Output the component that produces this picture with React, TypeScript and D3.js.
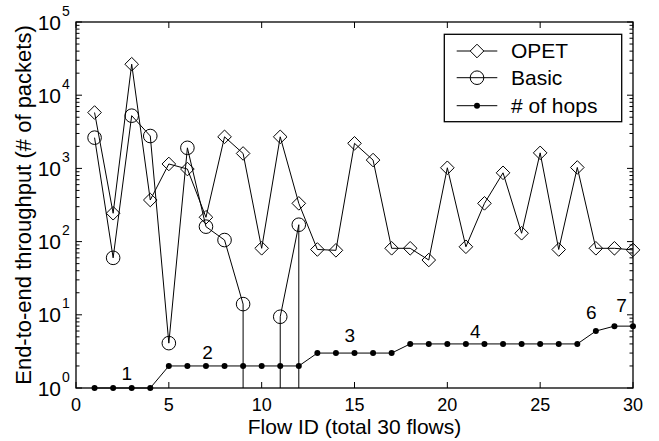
import React from "react";
import * as d3 from "d3";

const flowIds = d3.range(1, 31);
const opet = [5800, 244, 26500, 370, 1150, 980, 215, 2700, 1600, 81, 2700, 333, 78, 76, 2200, 1300, 81, 81, 56, 1020, 85, 333, 870, 130, 1630, 78, 1030, 81, 81, 77];
const basic = [2630, 60, 5250, 2770, 4.1, 1910, 160, 105, 14, 0, 9.4, 170, 0];
const hops = [1, 1, 1, 1, 2, 2, 2, 2, 2, 2, 2, 2, 3, 3, 3, 3, 3, 4, 4, 4, 4, 4, 4, 4, 4, 4, 4, 6, 7, 7];
const xTicks = [0, 5, 10, 15, 20, 25, 30];
const yExps = [0, 1, 2, 3, 4, 5];
const hopLabels = ["1", "2", "3", "4", "6", "7"];
const hopLabelX = [2.73, 7.09, 14.75, 21.5, 27.76, 29.38];
const hopLabelLevel = [1, 2, 3, 4, 6, 7];
const legendNames = ["OPET", "Basic", "# of hops"];

const FONT = "'Liberation Sans', Arial, Helvetica, sans-serif";
const L = 76, R = 633, T = 22, B = 388;

export default function App() {
  const x = d3.scaleLinear().domain([0, 30]).range([L, R]);
  const y = d3.scaleLog().domain([1, 1e5]).range([B, T]);
  const line = d3.line<[number, number]>().x(d => x(d[0])).y(d => y(d[1]));

  const opetPts: [number, number][] = opet.map((v, i) => [flowIds[i], v]);
  const hopPts: [number, number][] = hops.map((v, i) => [flowIds[i], v]);

  // Basic: zero values drop to the bottom of the log axis
  const basicSegs: string[] = [];
  for (let i = 0; i < basic.length - 1; i++) {
    const a = basic[i], b = basic[i + 1];
    const xa = flowIds[i], xb = flowIds[i + 1];
    if (a > 0 && b > 0) basicSegs.push(`M${x(xa)},${y(a)}L${x(xb)},${y(b)}`);
    else if (a > 0) basicSegs.push(`M${x(xa)},${y(a)}L${x(xa)},${B}`);
    else if (b > 0) basicSegs.push(`M${x(xb)},${B}L${x(xb)},${y(b)}`);
  }

  const diamond = (cx: number, cy: number, r = 6.8) =>
    `M${cx},${cy - r}L${cx + r},${cy}L${cx},${cy + r}L${cx - r},${cy}Z`;

  const minor: number[] = [];
  for (let e = 0; e < 5; e++) for (let k = 2; k <= 9; k++) minor.push(k * Math.pow(10, e));

  const legendRows = [51, 77.7, 105.7];

  return (
    <svg width={659} height={441} style={{ display: "block", position: "absolute", left: 0, top: 0 }}>
      <rect x={0} y={0} width={659} height={441} fill="#fff" />
      {/* ticks */}
      <g stroke="#000" strokeWidth={1}>
        {xTicks.map(t => (
          <g key={"xt" + t}>
            <line x1={x(t)} x2={x(t)} y1={B} y2={B - 6} />
            <line x1={x(t)} x2={x(t)} y1={T} y2={T + 6} />
          </g>
        ))}
        {yExps.map(e => (
          <g key={"yt" + e}>
            <line x1={L} x2={L + 6} y1={y(Math.pow(10, e))} y2={y(Math.pow(10, e))} />
            <line x1={R} x2={R - 6} y1={y(Math.pow(10, e))} y2={y(Math.pow(10, e))} />
          </g>
        ))}
        {minor.map(m => (
          <g key={"ym" + m}>
            <line x1={L} x2={L + 3.5} y1={y(m)} y2={y(m)} />
            <line x1={R} x2={R - 3.5} y1={y(m)} y2={y(m)} />
          </g>
        ))}
      </g>
      {/* series */}
      <path d={line(opetPts) || ""} fill="none" stroke="#000" strokeWidth={1} />
      {opetPts.map((p, i) => (
        <path key={"od" + i} d={diamond(x(p[0]), y(p[1]))} fill="none" stroke="#000" strokeWidth={1} />
      ))}
      <path d={basicSegs.join("")} fill="none" stroke="#000" strokeWidth={1} />
      {basic.map((v, i) => v > 0 ? (
        <circle key={"bc" + i} cx={x(flowIds[i])} cy={y(v)} r={6.8} fill="none" stroke="#000" strokeWidth={1} />
      ) : null)}
      <path d={line(hopPts) || ""} fill="none" stroke="#000" strokeWidth={1} />
      {hopPts.map((p, i) => (
        <circle key={"hc" + i} cx={x(p[0])} cy={y(p[1])} r={3} fill="#000" />
      ))}
      {hopLabels.map((t, i) => (
        <text key={"hl" + t} x={x(hopLabelX[i])} y={y(hopLabelLevel[i]) - [8, 7, 11.5, 6, 12, 14.5][i]}
          textAnchor="middle" fontFamily={FONT} fontSize={19}>{t}</text>
      ))}
      {/* frame */}
      <rect x={L} y={T} width={R - L} height={B - T} fill="none" stroke="#000" strokeWidth={1.3} />
      {/* x tick labels */}
      {xTicks.map(t => (
        <text key={"xl" + t} x={x(t)} y={410.5} textAnchor="middle" fontFamily={FONT} fontSize={18}>{t}</text>
      ))}
      {/* y tick labels */}
      {yExps.map(e => (
        <g key={"yl" + e} fontFamily={FONT}>
          <text x={61} y={y(Math.pow(10, e)) + 7.5} textAnchor="end" fontSize={21}>10</text>
          <text x={62} y={y(Math.pow(10, e)) - 6.5} textAnchor="start" fontSize={14}>{e}</text>
        </g>
      ))}
      <text x={x(15)} y={433.5} textAnchor="middle" fontFamily={FONT} fontSize={21}>Flow ID (total 30 flows)</text>
      <text transform={`translate(31,${(T + B) / 2}) rotate(-90)`} textAnchor="middle" fontFamily={FONT} fontSize={22}>
        End-to-end throughput (# of packets)
      </text>
      {/* legend */}
      <rect x={444.3} y={34.3} width={177.4} height={87.4} fill="#fff" stroke="#000" strokeWidth={1.3} />
      {legendNames.map((n, i) => (
        <g key={"lg" + i}>
          <line x1={456.7} x2={497.3} y1={legendRows[i]} y2={legendRows[i]} stroke="#000" strokeWidth={1} />
          {i === 0 && <path d={diamond(477, legendRows[i])} fill="#fff" stroke="#000" strokeWidth={1} />}
          {i === 1 && <circle cx={477} cy={legendRows[i]} r={6.8} fill="none" stroke="#000" strokeWidth={1} />}
          {i === 2 && <circle cx={477} cy={legendRows[i]} r={3} fill="#000" />}
          <text x={511} y={legendRows[i] + 7} fontFamily={FONT} fontSize={21}>{n}</text>
        </g>
      ))}
    </svg>
  );
}
